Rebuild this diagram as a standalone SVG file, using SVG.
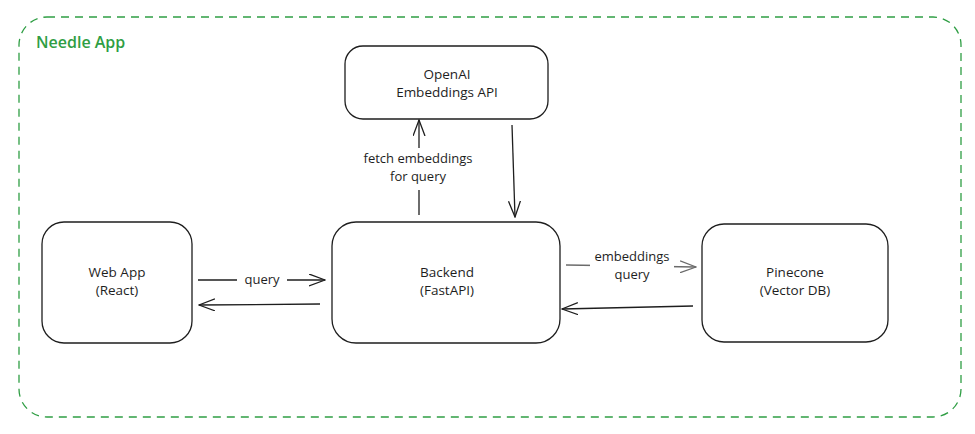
<svg xmlns="http://www.w3.org/2000/svg" width="975" height="434" viewBox="0 0 975 434">
<style>
.node{fill:#fff;stroke:#1e1e1e;stroke-width:1.3}
.t{font-family:"Open Sans","Liberation Sans",sans-serif;font-size:13.5px;fill:#1e1e1e;text-anchor:middle}
.lbl{font-family:"Open Sans","Liberation Sans",sans-serif;font-size:13px;fill:#1e1e1e;text-anchor:middle}
.edge{fill:none;stroke:#1e1e1e;stroke-width:1.3}
.bg{fill:#fff}
</style>
<defs>
<marker id="ah" viewBox="0 0 17 13" refX="16" refY="6.5" markerWidth="17" markerHeight="13" markerUnits="userSpaceOnUse" orient="auto">
<path d="M0,0.5 L16,6.5 L0,12.5" fill="none" stroke="#1e1e1e" stroke-width="1.3"/>
</marker>
<marker id="ahg" viewBox="0 0 17 13" refX="16" refY="6.5" markerWidth="17" markerHeight="13" markerUnits="userSpaceOnUse" orient="auto">
<path d="M0,0.5 L16,6.5 L0,12.5" fill="none" stroke="#6b6b6b" stroke-width="1.3"/>
</marker>
</defs>
<rect width="975" height="434" fill="#fff"/>
<g id="group-needle-app">
<rect x="19" y="17" width="942" height="400" rx="28" fill="none" stroke="#2f9e44" stroke-width="1.3" stroke-dasharray="8 6"/>
<text x="36" y="48" font-family="'Open Sans','Liberation Sans',sans-serif" font-size="16" font-weight="600" fill="#2f9e44">Needle App</text>
</g>
<g id="connectors">
<path class="edge" d="M198,280 L325,280" marker-end="url(#ah)"/>
<rect class="bg" x="237" y="270" width="50" height="18"/>
<text class="lbl" x="262" y="284">query</text>
<path class="edge" d="M320,304 L199,305" marker-end="url(#ah)"/>
<path class="edge" d="M566,265 L696,267" style="stroke:#6b6b6b" marker-end="url(#ahg)"/>
<rect class="bg" x="590" y="247" width="84" height="35"/>
<text class="lbl" x="632" y="261">embeddings</text>
<text class="lbl" x="632" y="279">query</text>
<path class="edge" d="M693,306 L562,309" marker-end="url(#ah)"/>
<path class="edge" d="M419,215 L419,120" marker-end="url(#ah)"/>
<rect class="bg" x="358" y="148" width="122" height="42"/>
<text class="lbl" x="418" y="163">fetch embeddings</text>
<text class="lbl" x="418" y="181">for query</text>
<path class="edge" d="M512,125 L515,217" marker-end="url(#ah)"/>
</g>
<g id="node-openai">
<rect class="node" x="345" y="46" width="203" height="73" rx="18"/>
<text class="t" x="447" y="79">OpenAI</text>
<text class="t" x="447" y="97">Embeddings API</text>
</g>
<g id="node-webapp">
<rect class="node" x="42" y="222" width="150" height="121" rx="22"/>
<text class="t" x="117" y="277">Web App</text>
<text class="t" x="117" y="295">(React)</text>
</g>
<g id="node-backend">
<rect class="node" x="332" y="222" width="228" height="121" rx="24"/>
<text class="t" x="447" y="277">Backend</text>
<text class="t" x="447" y="295">(FastAPI)</text>
</g>
<g id="node-pinecone">
<rect class="node" x="702" y="224" width="186" height="118" rx="22"/>
<text class="t" x="795" y="277">Pinecone</text>
<text class="t" x="795" y="295">(Vector DB)</text>
</g>
</svg>
